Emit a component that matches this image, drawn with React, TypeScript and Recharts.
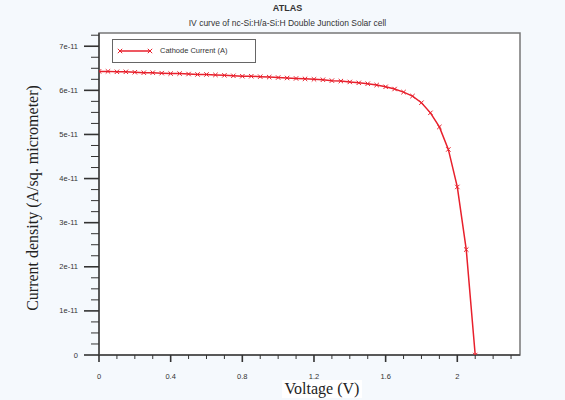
import { LineChart, Line, XAxis, YAxis, ReferenceArea } from 'recharts';

// voltage sweep (V)
const voltage = [
	0, 0.05, 0.1, 0.15, 0.2, 0.25, 0.3, 0.35, 0.4, 0.45, 0.5, 0.55, 0.6, 0.65, 0.7, 0.75, 0.8, 0.85, 0.9,
	0.95, 1.0, 1.05, 1.1, 1.15, 1.2, 1.25, 1.3, 1.35, 1.4, 1.45, 1.5, 1.55, 1.6, 1.65, 1.7, 1.75, 1.8,
	1.85, 1.9, 1.95, 2.0, 2.05, 2.1,
];

// cathode current, in units of 1e-11 A/sq. micrometer
const current = [
	6.43, 6.43, 6.42, 6.42, 6.41, 6.4, 6.4, 6.39, 6.38, 6.38, 6.37, 6.36, 6.36, 6.35, 6.34, 6.33, 6.32,
	6.32, 6.31, 6.3, 6.29, 6.28, 6.27, 6.26, 6.25, 6.24, 6.22, 6.21, 6.19, 6.17, 6.15, 6.12, 6.08, 6.03,
	5.96, 5.87, 5.72, 5.49, 5.17, 4.66, 3.81, 2.39, 0,
];

const xTicks = [
	0, 0.1, 0.2, 0.3, 0.4, 0.5, 0.6, 0.7, 0.8, 0.9, 1.0, 1.1, 1.2, 1.3, 1.4, 1.5, 1.6, 1.7, 1.8, 1.9, 2.0,
	2.1, 2.2, 2.3,
];
const xLabels = ['0', '0.4', '0.8', '1.2', '1.6', '2'];

const yTicks = [
	0, 0.25, 0.5, 0.75, 1, 1.25, 1.5, 1.75, 2, 2.25, 2.5, 2.75, 3, 3.25, 3.5, 3.75, 4, 4.25, 4.5, 4.75, 5,
	5.25, 5.5, 5.75, 6, 6.25, 6.5, 6.75, 7, 7.25,
].map((v) => v * 1e-11);
const yLabels = ['0', '1e-11', '2e-11', '3e-11', '4e-11', '5e-11', '6e-11', '7e-11'];

const data = voltage.map((v, i) => ({ v, cur: current[i] * 1e-11 }));

const RED = '#e8202c';
const SANS = '"Liberation Sans", Arial, sans-serif';
const SERIF = '"Liberation Serif", "Times New Roman", serif';

const XTick = ({ x, y, index }: any) => {
	const major = index % 4 === 0;
	return (
		<g>
			<line x1={x} y1={y} x2={x} y2={y + (major ? 7 : 4)} stroke='#333' strokeWidth={major ? 1.6 : 1} />
			{major && (
				<text x={x} y={y + 24} textAnchor='middle' fontSize={7.5} fontFamily={SANS} fill='#333'>
					{xLabels[index / 4]}
				</text>
			)}
		</g>
	);
};

const YTick = ({ x, y, index }: any) => {
	const major = index % 4 === 0;
	return (
		<g>
			<line x1={x} y1={y} x2={x - (major ? 15 : 8)} y2={y} stroke='#333' strokeWidth={major ? 1.6 : 1} />
			{major && (
				<text x={x - 21} y={y + 2.5} textAnchor='end' fontSize={7.5} fontFamily={SANS} fill='#333'>
					{yLabels[index / 4]}
				</text>
			)}
		</g>
	);
};

const Marker = ({ cx, cy }: any) => {
	if (cx == null || cy == null) return null;
	const s = 2.2;
	return (
		<g stroke={RED} strokeWidth={1}>
			<line x1={cx - s} y1={cy - s} x2={cx + s} y2={cy + s} />
			<line x1={cx - s} y1={cy + s} x2={cx + s} y2={cy - s} />
		</g>
	);
};

const LegendBox = () => (
	<div
		style={{
			position: 'absolute',
			left: 112,
			top: 39,
			width: 144,
			height: 24,
			border: '1px solid #666',
			background: '#fff',
			boxSizing: 'border-box',
		}}
	>
		<svg width={40} height={22} style={{ position: 'absolute', left: 4, top: 0 }}>
			<line x1={3} y1={11} x2={33} y2={11} stroke={RED} strokeWidth={1.5} />
			<Marker cx={3} cy={11} />
			<Marker cx={33} cy={11} />
		</svg>
		<span
			style={{
				position: 'absolute',
				left: 47,
				top: 6,
				fontSize: 7.5,
				fontFamily: SANS,
				color: '#333',
			}}
		>
			Cathode Current (A)
		</span>
	</div>
);

export default function App() {
	return (
		<div style={{ position: 'absolute', left: 0, top: 0, width: 565, height: 400, background: '#f5f9fd' }}>
			<div
				style={{
					position: 'absolute',
					top: 3,
					left: 5,
					width: 565,
					textAlign: 'center',
					fontFamily: SANS,
					fontSize: 9,
					fontWeight: 'bold',
					color: '#333',
				}}
			>
				ATLAS
			</div>
			<div
				style={{
					position: 'absolute',
					top: 18,
					left: 5,
					width: 565,
					textAlign: 'center',
					fontFamily: SANS,
					fontSize: 8.5,
					color: '#333',
				}}
			>
				IV curve of nc-Si:H/a-Si:H Double Junction Solar cell
			</div>
			<LineChart
				width={565}
				height={400}
				data={data}
				margin={{ top: 33, right: 45, left: 0, bottom: 0 }}
				style={{ position: 'absolute', left: 0, top: 0 }}
			>
				<ReferenceArea x1={0} x2={2.35} y1={0} y2={7.3e-11} fill='#fff' fillOpacity={1} stroke='#777' strokeWidth={1.5} />
				<XAxis
					dataKey='v'
					type='number'
					domain={[0, 2.35]}
					ticks={xTicks}
					interval={0}
					tick={<XTick />}
					tickLine={false}
					tickSize={0}
					tickMargin={0}
					axisLine={{ stroke: '#444', strokeWidth: 1.5 }}
					height={45}
					allowDataOverflow
				/>
				<YAxis
					type='number'
					domain={[0, 7.3e-11]}
					ticks={yTicks}
					interval={0}
					tick={<YTick />}
					tickLine={false}
					tickSize={0}
					tickMargin={0}
					axisLine={{ stroke: '#444', strokeWidth: 1.5 }}
					width={99}
					allowDataOverflow
				/>
				<Line
					dataKey='cur'
					type='linear'
					stroke={RED}
					strokeWidth={1.5}
					dot={<Marker />}
					activeDot={false}
					isAnimationActive={false}
				/>
			</LineChart>
			<LegendBox />
			<div
				style={{
					position: 'absolute',
					left: 282,
					top: 380,
					width: 80,
					textAlign: 'center',
					fontFamily: SERIF,
					fontSize: 16,
					color: '#222',
					background: '#fff',
				}}
			>
				Voltage (V)
			</div>
			<div
				style={{
					position: 'absolute',
					left: 33,
					top: 198,
					transform: 'translate(-50%, -50%) rotate(-90deg)',
					whiteSpace: 'nowrap',
					fontFamily: SERIF,
					fontSize: 16,
					color: '#222',
				}}
			>
				Current density (A/sq. micrometer)
			</div>
		</div>
	);
}
